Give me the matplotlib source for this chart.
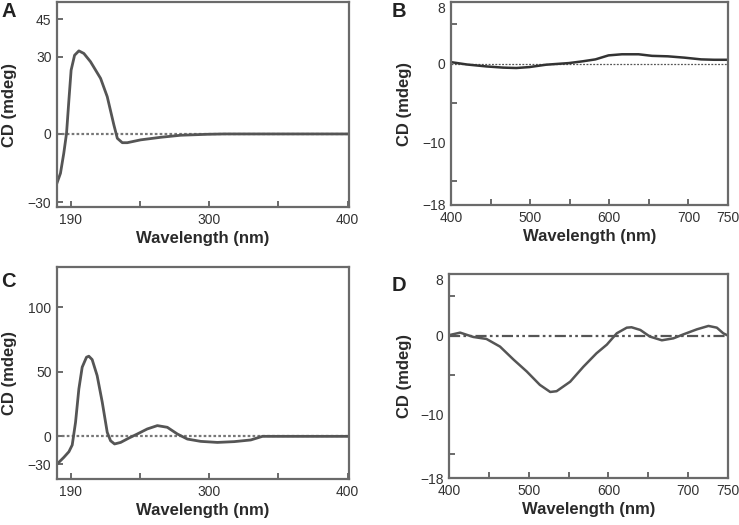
import numpy as np
import matplotlib
matplotlib.use("Agg")
from matplotlib import pyplot as plt

plt.rcParams['font.family'] = ['Liberation Sans', 'DejaVu Sans']

# panel A - far UV CD (190-400 nm)
wl_a = [190.1, 192.5, 194.9, 196.9, 198.6, 200.2, 202.7, 205.8, 209.4, 214.2,
        221.5, 226.3, 231.1, 233.6, 237.2, 240.8, 250.4, 264.9, 279.4, 298.7,
        310.8, 401.0]
cd_a = [-18.9, -15.3, -7.5, 0.3, 13.2, 24.8, 30.6, 32.3, 31.3, 28.1,
        21.6, 14.5, 3.5, -1.7, -3.4, -3.4, -2.3, -1.3, -0.5, -0.13,
        0.0, 0.0]

# panel B - visible CD (400-750 nm)
wl_b = [400, 420, 445, 466, 482.5, 499, 520, 549, 566, 582.5, 599, 616, 637,
        654, 674, 695, 716, 732.5, 750]
cd_b = [0.2, -0.1, -0.35, -0.5, -0.55, -0.43, -0.13, 0.08, 0.3, 0.55, 1.06,
        1.2, 1.2, 1.0, 0.94, 0.77, 0.55, 0.5, 0.5]

# panel C - far UV CD (190-400 nm)
wl_c = [190.1, 194.9, 198.6, 201.0, 203.4, 205.8, 208.2, 211.3, 213.0, 215.4,
        219.0, 222.7, 226.3, 228.7, 231.6, 236.0, 242.0, 248.0, 255.2, 262.5,
        269.7, 277.0, 284.2, 293.9, 305.9, 318.0, 330.0, 338.5, 401.0]
cd_c = [-21.4, -16.3, -11.9, -6.7, 10.9, 36.7, 53.5, 61.2, 62.0, 59.4,
        47.0, 26.4, 3.1, -3.4, -5.9, -4.7, -1.3, 1.8, 5.7, 8.3,
        7.0, 1.8, -2.1, -3.9, -4.7, -4.1, -2.8, 0.0, 0.0]

# panel D - visible CD (400-750 nm)
wl_d = [400, 414, 430.5, 447, 464, 481, 497.5, 514, 527, 535, 552, 568.6,
        585, 598, 610.5, 623, 629, 640, 652, 667, 681.6, 694, 711, 725.5,
        736, 744, 750]
cd_d = [0.1, 0.42, -0.13, -0.38, -1.35, -3.0, -4.5, -6.2, -7.1, -7.0, -5.8,
        -3.9, -2.2, -1.1, 0.34, 1.05, 1.1, 0.76, -0.08, -0.55, -0.3, 0.2,
        0.84, 1.27, 1.05, 0.34, 0.04]

uv_ticks = [200, 250, 300, 350, 400]
uv_labels = ['190', '', '300', '', '400']
vis_ticks = [400, 500, 600, 700, 750]
vis_minor = [450, 550, 650]
vis_yticks = [7.2, 0, -10, -18]
vis_ylabels = ['8', '0', '\u221210', '\u221218']

line_col = '#555555'
spine_col = '#6a6a6a'

fig = plt.figure(figsize=(7.39, 5.25), dpi=100)

def px_axes(l, t, r, b):
    W, H = 739.0, 525.0
    return fig.add_axes([l / W, 1 - b / H, (r - l) / W, (b - t) / H])

def style(ax, ylab_x):
    for s in ax.spines.values():
        s.set_color(spine_col)
        s.set_linewidth(1.6)
    ax.tick_params(direction='in', length=4, width=1.4, color=spine_col,
                   labelsize=10, labelcolor='#333333', pad=4)
    ax.tick_params(which='minor', direction='in', length=4, width=1.4,
                   color=spine_col)
    ax.set_xlabel('Wavelength (nm)', fontsize=12, fontweight='bold',
                  color='#2a2a2a', labelpad=3)
    ax.set_ylabel('CD (mdeg)', fontsize=12, fontweight='bold',
                  color='#2a2a2a')
    ax.yaxis.set_label_coords(ylab_x, 0.5)

def letter(x, y, s):
    fig.text(x / 739.0, 1 - y / 525.0, s, fontsize=14.5, fontweight='bold',
             color='#222222', va='top', ha='left')

# A
ax = px_axes(57, 2, 349, 207)
ax.axhline(0, color='#777777', lw=1.6, ls=(0, (1.2, 1.0)))
ax.plot(wl_a, cd_a, color=line_col, lw=2.0)
ax.set_xlim(190, 401)
ax.set_ylim(-28.4, 51.3)
ax.set_xticks(uv_ticks)
ax.set_xticklabels(uv_labels)
ax.set_yticks([44.5, 30, 0, -26.6])
ax.set_yticklabels(['45', '30', '0', '\u221230'])
style(ax, -0.137)
letter(1, 2, 'A')

# B
ax = px_axes(451, 2, 728, 205)
ax.axhline(0, color='#555555', lw=0.9, ls=(0, (1.5, 1.2)))
ax.plot(wl_b, cd_b, color='#333333', lw=1.8)
ax.set_xlim(400, 750)
ax.set_ylim(-18, 7.86)
ax.set_xticks(vis_ticks)
ax.set_xticks(vis_minor, minor=True)
ax.set_yticks(vis_yticks)
ax.set_yticklabels(vis_ylabels)
ax.set_yticks([5, -5, -15], minor=True)
style(ax, -0.14)
ax.tick_params(axis='y', which='major', length=0)
letter(392, 2, 'B')

# C
ax = px_axes(57, 267, 349, 479)
ax.axhline(0, color='#777777', lw=1.6, ls=(0, (1.2, 1.0)))
ax.plot(wl_c, cd_c, color=line_col, lw=2.0)
ax.set_xlim(190, 401)
ax.set_ylim(-33, 131)
ax.set_xticks(uv_ticks)
ax.set_xticklabels(uv_labels)
ax.set_yticks([100, 50, 0, -21.4])
ax.set_yticklabels(['100', '50', '0', '\u221230'])
style(ax, -0.137)
letter(1, 272, 'C')

# D
ax = px_axes(449, 274, 728, 478)
ax.axhline(0, color='#555555', lw=1.6, ls=(0, (5, 1.5, 1.2, 1.5, 1.2, 1.5)))
ax.plot(wl_d, cd_d, color=line_col, lw=1.8)
ax.set_xlim(400, 750)
ax.set_ylim(-18, 7.85)
ax.set_xticks(vis_ticks)
ax.set_xticks(vis_minor, minor=True)
ax.set_yticks(vis_yticks)
ax.set_yticklabels(vis_ylabels)
ax.set_yticks([5, -5, -15], minor=True)
style(ax, -0.133)
ax.tick_params(axis='y', which='major', length=0)
letter(392, 276, 'D')

fig.savefig('out.png', dpi=100)
